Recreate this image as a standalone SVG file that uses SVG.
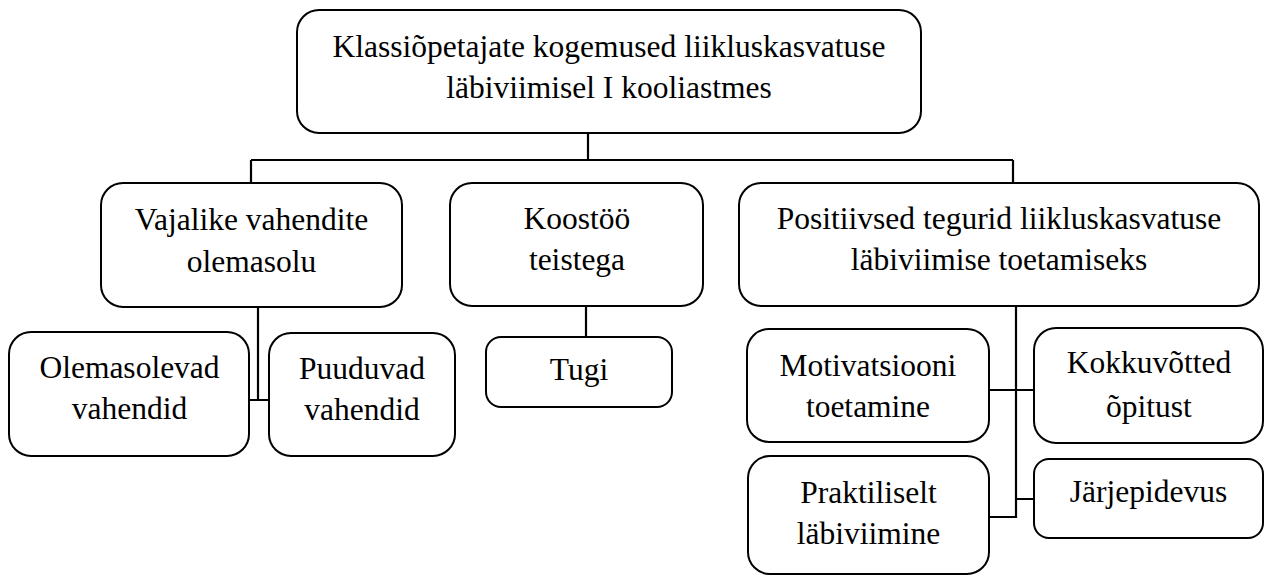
<svg xmlns="http://www.w3.org/2000/svg" width="1266" height="576" viewBox="0 0 1266 576">
<style>
.box{fill:#fff;stroke:#000;stroke-width:2}
text{font-family:'Liberation Serif','DejaVu Serif',serif;font-size:31.5px;fill:#000;text-anchor:middle}
.c{fill:none;stroke:#000;stroke-width:2.2}
</style>
<rect width="1266" height="576" fill="#fff"/>
<g id="connectors">
<path class="c" d="M251,160 H1013 M588,133 V160 M251,160 V183 M1013,160 V183"/>
<path class="c" d="M258,307 V400 M249,400 H269"/>
<path class="c" d="M586,306 V337"/>
<path class="c" d="M1016,306 V517 H989 M989,390 H1034 M1016,499 H1034"/>
</g>
<g font-family="Liberation Serif, DejaVu Serif, serif">
<g id="top">
<rect class="box" x="297" y="10" width="624" height="123" rx="22"/>
<text x="609" y="57">Klassiõpetajate kogemused liikluskasvatuse</text>
<text x="609" y="98">läbiviimisel I kooliastmes</text>
</g>
<g id="vajalike">
<rect class="box" x="101" y="183" width="301" height="124" rx="22"/>
<text x="251.5" y="230">Vajalike vahendite</text>
<text x="251.5" y="272">olemasolu</text>
</g>
<g id="koostoo">
<rect class="box" x="450" y="183" width="253" height="123" rx="22"/>
<text x="577" y="229">Koostöö</text>
<text x="577" y="270">teistega</text>
</g>
<g id="positiivsed">
<rect class="box" x="739" y="183" width="520" height="123" rx="22"/>
<text x="999" y="229">Positiivsed tegurid liikluskasvatuse</text>
<text x="999" y="270">läbiviimise toetamiseks</text>
</g>
<g id="olemasolevad">
<rect class="box" x="9" y="332" width="240" height="124" rx="22"/>
<text x="129.5" y="378">Olemasolevad</text>
<text x="129.5" y="419">vahendid</text>
</g>
<g id="puuduvad">
<rect class="box" x="269" y="333" width="186" height="123" rx="22"/>
<text x="362" y="379">Puuduvad</text>
<text x="362" y="420">vahendid</text>
</g>
<g id="tugi">
<rect class="box" x="486" y="337" width="186" height="70" rx="15"/>
<text x="579" y="380">Tugi</text>
</g>
<g id="motivatsiooni">
<rect class="box" x="747" y="329" width="242" height="113" rx="22"/>
<text x="868" y="376">Motivatsiooni</text>
<text x="868" y="417">toetamine</text>
</g>
<g id="kokkuvotted">
<rect class="box" x="1034" y="328" width="229" height="115" rx="22"/>
<text x="1149" y="373">Kokkuvõtted</text>
<text x="1149" y="417">õpitust</text>
</g>
<g id="praktiliselt">
<rect class="box" x="748" y="456" width="241" height="118" rx="22"/>
<text x="868.5" y="503">Praktiliselt</text>
<text x="868.5" y="544">läbiviimine</text>
</g>
<g id="jarjepidevus">
<rect class="box" x="1034" y="459" width="229" height="79" rx="15"/>
<text x="1148.5" y="502">Järjepidevus</text>
</g>
</g>
</svg>
